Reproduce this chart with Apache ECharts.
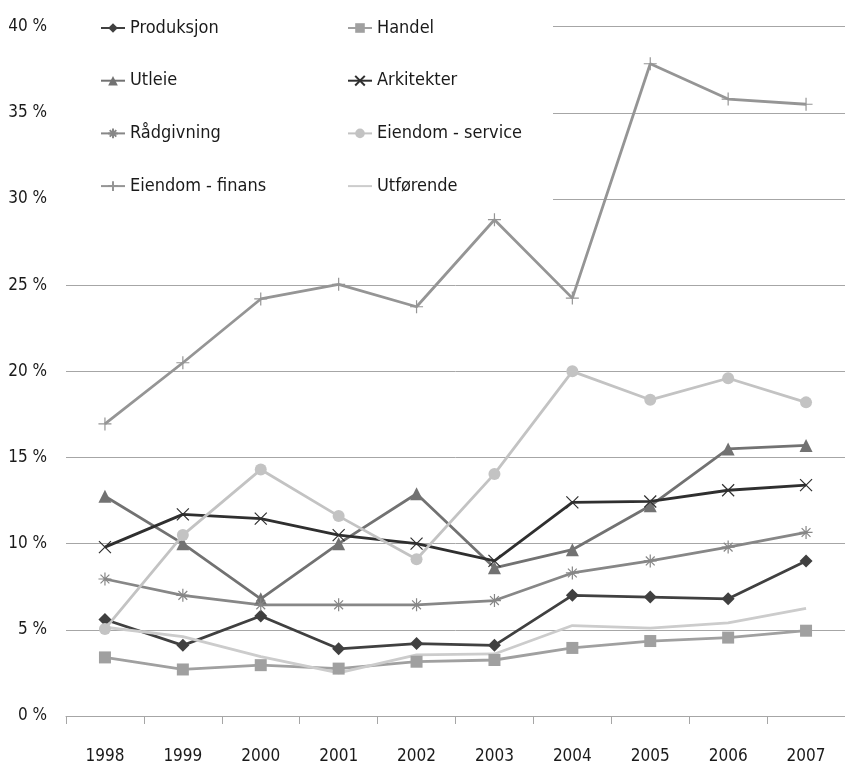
<!DOCTYPE html>
<html>
<head>
<meta charset="utf-8">
<script src="https://cdn.jsdelivr.net/npm/echarts@6/dist/echarts.min.js"></script>
<style>
html,body{margin:0;padding:0;background:#fff;}
#chart{width:845px;height:765px;}
</style>
</head>
<body>
<div id="chart"></div>
<script>
const years = ['1998','1999','2000','2001','2002','2003','2004','2005','2006','2007'];
const produksjon = [5.6, 4.1, 5.8, 3.9, 4.2, 4.1, 7.0, 6.9, 6.8, 9.0];
const handel = [3.4, 2.7, 2.95, 2.75, 3.15, 3.25, 3.95, 4.35, 4.55, 4.95];
const utleie = [12.75, 10.0, 6.8, 10.0, 12.9, 8.6, 9.65, 12.2, 15.5, 15.7];
const arkitekter = [9.8, 11.7, 11.45, 10.5, 10.0, 9.0, 12.4, 12.45, 13.1, 13.4];
const raadgivning = [7.95, 7.0, 6.45, 6.45, 6.45, 6.7, 8.3, 9.0, 9.8, 10.65];
const eiendomService = [5.05, 10.5, 14.3, 11.6, 9.1, 14.05, 20.0, 18.35, 19.6, 18.2];
const eiendomFinans = [16.95, 20.5, 24.2, 25.05, 23.75, 28.8, 24.25, 37.85, 35.8, 35.5];
const utforende = [5.15, 4.6, 3.45, 2.5, 3.55, 3.6, 5.25, 5.1, 5.4, 6.25];
const yTicks = {min: 0, max: 40, step: 5};

const FONT = '"DejaVu Sans Condensed", "Liberation Sans Narrow", "Lato", sans-serif';
const xPath = 'path://M0,0L10,10M10,0L0,10';
const starPath = 'path://M5,0L5,10M0,5L10,5M1.6,1.6L8.4,8.4M8.4,1.6L1.6,8.4';
const plusPath = 'path://M5,0L5,10M0,5L10,5';

function line(name, data, color, symbol, size, opts) {
  opts = opts || {};
  const stroked = opts.stroked;
  return {
    name: name, type: 'line', data: data,
    symbol: symbol, symbolSize: size, showSymbol: symbol !== 'none',
    lineStyle: {color: color, width: 2.8},
    itemStyle: stroked ? {color: color, borderColor: color, borderWidth: 1.2} : {color: color},
    emphasis: {disabled: true},
    animation: false, z: opts.z || 2
  };
}

const chart = echarts.init(document.getElementById('chart'));
const legendText = {fontFamily: FONT, fontSize: 18, color: '#1a1a1a', lineHeight: 20};
const legendBase = {orient: 'vertical', top: 18, padding: 0, itemWidth: 24, itemHeight: 12, itemGap: 32.7,
  textStyle: legendText, selectedMode: false, z: 5};
chart.setOption({
  backgroundColor: '#ffffff',
  animation: false,
  grid: {left: 66, right: -6, top: 26.7, bottom: 47.3, containLabel: false},
  graphic: [{type: 'rect', shape: {x: 66, y: 0, width: 487, height: 207}, style: {fill: '#ffffff'}, z: 1, silent: true}],
  legend: [
    Object.assign({}, legendBase, {left: 100, data: ['Produksjon','Utleie','Rådgivning','Eiendom - finans']}),
    Object.assign({}, legendBase, {left: 347, data: ['Handel','Arkitekter','Eiendom - service',
      {name: 'Utførende', itemStyle: {opacity: 0}}]})
  ],
  xAxis: {
    type: 'category', data: years, boundaryGap: true,
    axisLine: {lineStyle: {color: '#a6a6a6', width: 1}},
    axisTick: {show: true, length: 8, lineStyle: {color: '#a6a6a6'}},
    axisLabel: {fontFamily: FONT, fontSize: 17, color: '#1a1a1a', margin: 32},
    splitLine: {show: false}
  },
  yAxis: {
    type: 'value', min: yTicks.min, max: yTicks.max, interval: yTicks.step,
    axisLine: {show: false}, axisTick: {show: false},
    axisLabel: {fontFamily: FONT, fontSize: 17, color: '#1a1a1a', margin: 19, formatter: '{value} %'},
    splitLine: {lineStyle: {color: '#a6a6a6', width: 1}}
  },
  series: [
    line('Produksjon', produksjon, '#404040', 'diamond', 13),
    line('Handel', handel, '#a0a0a0', 'rect', 12),
    line('Utleie', utleie, '#727272', 'triangle', 13),
    line('Arkitekter', arkitekter, '#2f2f2f', xPath, 12, {stroked: true}),
    line('Rådgivning', raadgivning, '#878787', starPath, 13, {stroked: true}),
    line('Eiendom - service', eiendomService, '#c3c3c3', 'circle', 12),
    line('Eiendom - finans', eiendomFinans, '#959595', plusPath, 13, {stroked: true}),
    line('Utførende', utforende, '#cccccc', 'none', 0)
  ]
});
</script>
</body>
</html>
